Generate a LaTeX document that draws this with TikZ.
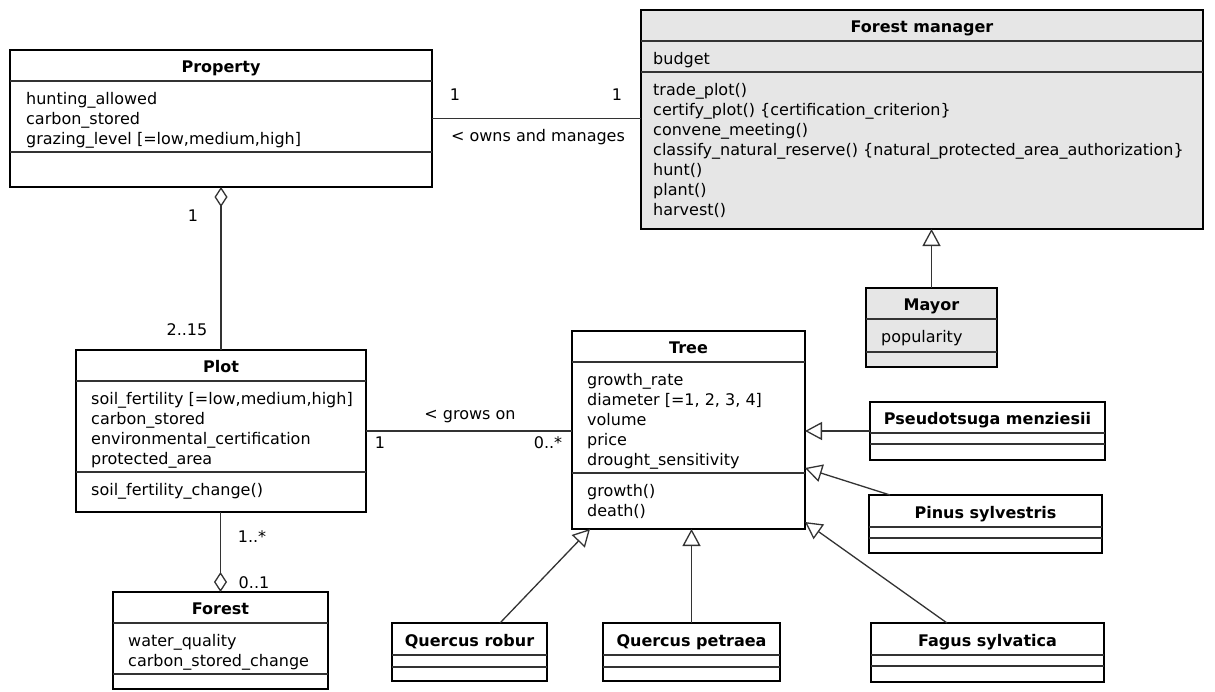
\documentclass[tikz,border=0pt]{standalone}
\usepackage{fontspec}
\setmainfont{DejaVu Sans}
\usetikzlibrary{arrows.meta,calc,fit}
\definecolor{mgrfill}{HTML}{E6E6E6}
\definecolor{lncol}{HTML}{333333}
\tikzset{
  cls/.style={draw=black, line width=2.4pt, inner sep=0pt, outer sep=0pt},
  divline/.style={draw=lncol, line width=1.5pt},
  ttl/.style={font=\fontsize{16}{20}\selectfont\bfseries, anchor=base, inner sep=0pt},
  txt/.style={font=\fontsize{16}{20}\selectfont, align=left, anchor=north west, inner sep=0pt},
  lbl/.style={font=\fontsize{16}{20}\selectfont, anchor=base, inner sep=0pt},
  conn/.style={draw=lncol, line width=1.3pt},
  gen/.style={conn, -{Triangle[length=17pt,width=18pt,fill=white]}},
  agg/.style={conn, -{Diamond[length=20pt,width=13pt,fill=white]}},
}
% name, x1, y1, x2, y2, fill, div1, div2, title
\newcommand\UMLclass[9]{%
  \node[cls, fill=#6, fit={(#2,#3) (#4,#5)}] (#1) {};
  \draw[divline] (#2,#7) -- (#4,#7);
  \draw[divline] (#2,#8) -- (#4,#8);
  \node[ttl] (#1-title) at ({(#2+#4)/2},{#7-9}) {#9};
}
\begin{document}
\begin{tikzpicture}[x=1pt,y=-1pt]
\fill[white] (0,0) rectangle (1215,691);
\useasboundingbox (0,0) rectangle (1215,691);

% classes
\UMLclass{prop}{10}{50}{432}{187}{white}{81}{152}{Property}
\node[txt] (prop-attr) at (26,92) {hunting\_allowed\\carbon\_stored\\grazing\_level [=low,medium,high]};

\UMLclass{fm}{641}{10}{1203}{229}{mgrfill}{41}{72}{Forest manager}
\node[txt] (fm-attr) at (653,52) {budget};
\node[txt] (fm-meth) at (653,83) {trade\_plot()\\certify\_plot() \{certification\_criterion\}\\convene\_meeting()\\classify\_natural\_reserve() \{natural\_protected\_area\_authorization\}\\hunt()\\plant()\\harvest()};

\UMLclass{mayor}{866}{288}{997}{367}{mgrfill}{319}{352}{Mayor}
\node[txt] (mayor-attr) at (881,330) {popularity};

\UMLclass{plot}{76}{350}{366}{512}{white}{381}{472}{Plot}
\node[txt] (plot-attr) at (91,392) {soil\_fertility [=low,medium,high]\\carbon\_stored\\environmental\_certification\\protected\_area};
\node[txt] (plot-meth) at (91,483) {soil\_fertility\_change()};

\UMLclass{tree}{572}{331}{805}{529}{white}{362}{473}{Tree}
\node[txt] (tree-attr) at (587,373) {growth\_rate\\diameter [=1, 2, 3, 4]\\volume\\price\\drought\_sensitivity};
\node[txt] (tree-meth) at (587,484) {growth()\\death()};

\UMLclass{forest}{113}{592}{328}{689}{white}{623}{674}{Forest}
\node[txt] (forest-attr) at (128,634) {water\_quality\\carbon\_stored\_change};

\UMLclass{pseudo}{870}{402}{1105}{460}{white}{433}{444}{Pseudotsuga menziesii}
\UMLclass{pinus}{869}{495}{1102}{553}{white}{527}{538}{Pinus sylvestris}
\UMLclass{fagus}{871}{623}{1104}{682}{white}{655}{666}{Fagus sylvatica}
\UMLclass{qr}{392}{623}{547}{681}{white}{655}{667}{Quercus robur}
\UMLclass{qp}{603}{623}{780}{681}{white}{655}{667}{Quercus petraea}

% connector end coordinates
\coordinate (qr-start) at ($(qr.north west)+(108,0)$);
\coordinate (tree-qr) at ($(tree.south west)+(18,0)$);
\coordinate (pinus-start) at ($(pinus.north west)+(21,0)$);
\coordinate (tree-pinus) at ($(tree.north east)+(0,137)$);
\coordinate (fagus-start) at ($(fagus.north west)+(76,0)$);
\coordinate (tree-fagus) at ($(tree.south east)+(0,-7)$);

% associations
\draw[conn] (prop.east) -- (prop.east -| fm.west);
\node[lbl] (l-own1) at (455,100) {1};
\node[lbl] (l-own2) at (617,100) {1};
\node[lbl] (l-own) at (538,141) {< owns and manages};

\draw[agg] (plot.north) -- (prop.south);
\node[lbl] (l-pp1) at (193,221) {1};
\node[lbl] (l-pp2) at (187,335) {2..15};

\draw[agg] (forest.north |- plot.south) -- (forest.north);
\node[lbl] (l-pf1) at (252,542) {1..*};
\node[lbl] (l-pf2) at (254,588) {0..1};

\draw[conn] (plot.east) -- (plot.east -| tree.west);
\node[lbl] (l-grow) at (470,419) {< grows on};
\node[lbl] (l-gr1) at (380,448) {1};
\node[lbl] (l-gr2) at (548,448) {0..*};

% generalizations
\draw[gen] (mayor.north) -- (mayor.north |- fm.south);
\draw[gen] (pseudo.west) -- (pseudo.west -| tree.east);
\draw[gen] (pinus-start) -- (tree-pinus);
\draw[gen] (fagus-start) -- (tree-fagus);
\draw[gen] (qp.north) -- (qp.north |- tree.south);
\draw[gen] (qr-start) -- (tree-qr);
\end{tikzpicture}
\end{document}
